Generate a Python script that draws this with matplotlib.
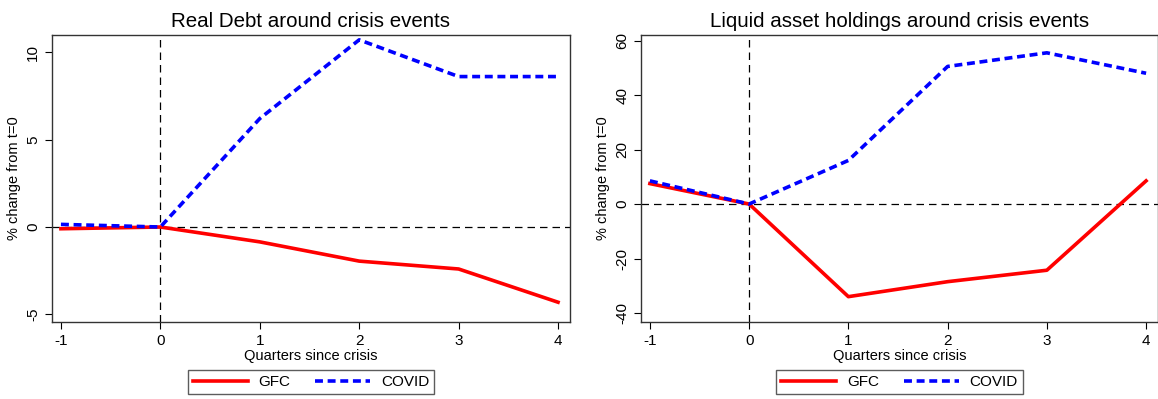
import matplotlib
matplotlib.use("Agg")
import matplotlib.pyplot as plt

plt.rcParams['font.family'] = ['Liberation Sans', 'DejaVu Sans']
plt.rcParams['axes.unicode_minus'] = False

quarters = [-1, 0, 1, 2, 3, 4]
debt_gfc = [-0.1, 0.0, -0.85, -1.95, -2.4, -4.3]
debt_covid = [0.15, 0.0, 6.2, 10.7, 8.6, 8.6]
liq_gfc = [7.5, 0.0, -34.0, -28.5, -24.3, 8.5]
liq_covid = [8.5, 0.0, 16.0, 50.5, 55.5, 48.0]

titles = ["Real Debt around crisis events", "Liquid asset holdings around crisis events"]
yticks_list = [[-5, 0, 5, 10], [-40, -20, 0, 20, 40, 60]]
ylims = [(-5.43, 10.97), (-43.3, 62.0)]

fig = plt.figure(figsize=(11.58, 3.99), dpi=100)
axes = [fig.add_axes([0.0449, 0.193, 0.4473, 0.719]),
        fig.add_axes([0.5535, 0.193, 0.4465, 0.719])]

data = [(debt_gfc, debt_covid), (liq_gfc, liq_covid)]
for ax, (gfc, covid), title, yt, yl in zip(axes, data, titles, yticks_list, ylims):
    ax.axhline(0, color='black', lw=0.9, ls=(0, (6, 4)), zorder=1)
    ax.axvline(0, color='black', lw=0.9, ls=(0, (6, 4)), zorder=1)
    l1, = ax.plot(quarters, gfc, color='#ff0000', lw=2.6, label='GFC', zorder=3)
    l2, = ax.plot(quarters, covid, color='#0000ff', lw=2.6, ls=(0, (2.2, 1.3)), label='COVID', zorder=3)
    ax.set_xlim(-1.09, 4.12)
    ax.set_ylim(*yl)
    ax.set_xticks(quarters)
    ax.set_yticks(yt)
    ax.set_yticklabels([str(v) for v in yt], rotation=90, va='center')
    ax.tick_params(labelsize=11, direction='out', length=5, width=0.8, colors='black')
    ax.set_xlabel('Quarters since crisis', fontsize=10.5, labelpad=1)
    ax.set_ylabel('% change from t=0', fontsize=10.5, labelpad=4)
    ax.set_title(title, fontsize=14.8, pad=6)
    for s in ax.spines.values():
        s.set_linewidth(1.0)
        s.set_color('#333333')
    leg = ax.legend(handles=[l1, l2], loc='upper center', bbox_to_anchor=(0.5, -0.14),
                    ncol=2, frameon=True, fancybox=False, fontsize=11,
                    handlelength=3.6, columnspacing=1.6, borderpad=0.35, handletextpad=0.7)
    leg.get_frame().set_edgecolor('#333333')
    leg.get_frame().set_linewidth(1.0)

fig.savefig('out.png', dpi=100)
